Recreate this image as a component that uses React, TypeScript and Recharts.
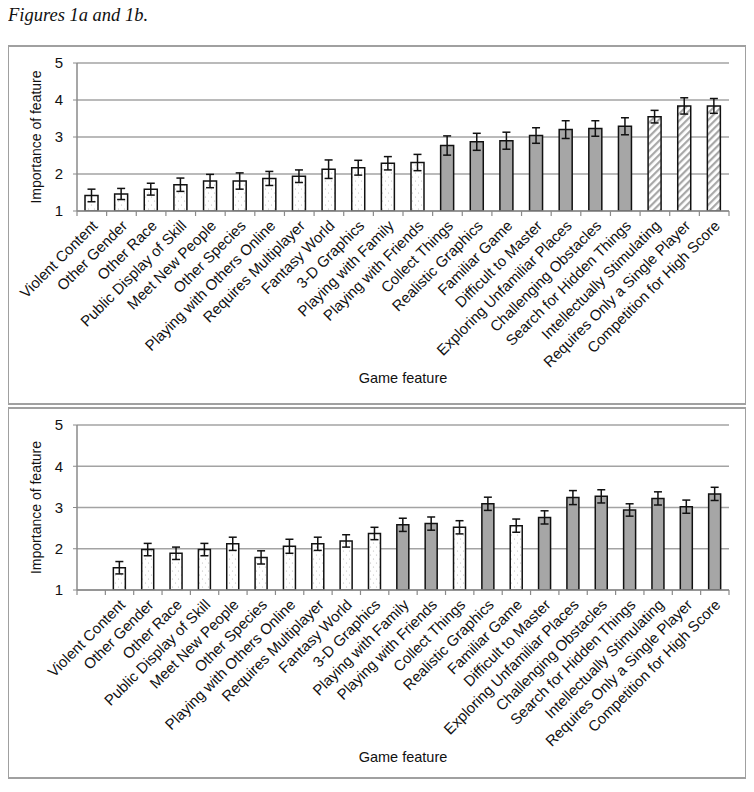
import React from 'react';
import { BarChart, Bar, XAxis, YAxis, CartesianGrid, Cell, ErrorBar, Label } from 'recharts';

// Figure 1a
const features1 = [
  'Violent Content', 'Other Gender', 'Other Race', 'Public Display of Skill', 'Meet New People',
  'Other Species', 'Playing with Others Online', 'Requires Multiplayer', 'Fantasy World', '3-D Graphics',
  'Playing with Family', 'Playing with Friends', 'Collect Things', 'Realistic Graphics', 'Familiar Game',
  'Difficult to Master', 'Exploring Unfamiliar Places', 'Challenging Obstacles', 'Search for Hidden Things',
  'Intellectually Stimulating', 'Requires Only a Single Player', 'Competition for High Score',
];
const means1 = [1.42, 1.46, 1.59, 1.71, 1.81, 1.81, 1.88, 1.94, 2.13, 2.17, 2.29, 2.31, 2.77, 2.87, 2.9, 3.04, 3.2, 3.23, 3.29, 3.55, 3.84, 3.84];
const errors1 = [0.17, 0.15, 0.16, 0.18, 0.18, 0.22, 0.19, 0.17, 0.25, 0.2, 0.18, 0.22, 0.26, 0.23, 0.23, 0.21, 0.24, 0.21, 0.23, 0.17, 0.22, 0.2];
const kinds1 = ['dot', 'dot', 'dot', 'dot', 'dot', 'dot', 'dot', 'dot', 'dot', 'dot', 'dot', 'dot',
  'gray', 'gray', 'gray', 'gray', 'gray', 'gray', 'gray', 'hatch', 'hatch', 'hatch'];

// Figure 1b (first slot is empty)
const features2 = ['', ...features1];
const means2 = [1, 1.54, 1.98, 1.89, 1.98, 2.12, 1.79, 2.06, 2.12, 2.19, 2.37, 2.58, 2.61, 2.52, 3.09, 2.56, 2.76, 3.24, 3.27, 2.94, 3.22, 3.02, 3.33];
const errors2 = [0, 0.15, 0.15, 0.15, 0.15, 0.16, 0.16, 0.17, 0.16, 0.15, 0.15, 0.16, 0.16, 0.16, 0.16, 0.16, 0.16, 0.17, 0.16, 0.15, 0.16, 0.16, 0.16];
const kinds2 = ['dot', 'dot', 'dot', 'dot', 'dot', 'dot', 'dot', 'dot', 'dot', 'dot', 'dot',
  'gray', 'gray', 'dot', 'gray', 'dot', 'gray', 'gray', 'gray', 'gray', 'gray', 'gray', 'gray'];

const yTicks = [1, 2, 3, 4, 5];

const table1 = features1.map((f, i) => ({ feature: f, mean: means1[i], err: errors1[i], kind: kinds1[i] }));
const table2 = features2.map((f, i) => ({ feature: f, mean: means2[i], err: errors2[i], kind: kinds2[i] }));

const SANS = '"Liberation Sans", Arial, sans-serif';
const GRID = '#a3a3a3';
const AXIS = '#8a8a8a';

function fillFor(kind: string, id: string) {
  if (kind === 'gray') return '#a6a6a6';
  if (kind === 'hatch') return `url(#hatch-${id})`;
  return `url(#dots-${id})`;
}

function FeatureTick(props: any) {
  const { x, y, payload, index, band } = props;
  const half = payload.offset || band / 2;
  const px = x + 3;
  const py = y + 12;
  return (
    <g>
      {index === 0 && <line x1={x - half} x2={x - half} y1={y} y2={y + 5} stroke={AXIS} strokeWidth={1.2} />}
      <line x1={x + half} x2={x + half} y1={y} y2={y + 5} stroke={AXIS} strokeWidth={1.2} />
      <text
        x={px}
        y={py}
        dy="0.35em"
        textAnchor="end"
        transform={`rotate(-45, ${px}, ${py})`}
        fontSize={15}
        fontFamily={SANS}
        fill="#111"
      >
        {payload.value}
      </text>
    </g>
  );
}

function Panel({ data, id, height, axisHeight, barSize, xLabelOffset }: any) {
  const width = 736;
  const band = (width - 68 - 16) / data.length;
  return (
    <BarChart width={width} height={height} data={data} margin={{ top: 16, right: 16, left: 0, bottom: 0 }} barCategoryGap={0}>
      <defs>
        <pattern id={`dots-${id}`} width="6" height="8" patternUnits="userSpaceOnUse">
          <rect width="6" height="8" fill="#fff" />
          <circle cx="1.5" cy="2" r="0.6" fill="#b8b8b8" />
          <circle cx="4.5" cy="6" r="0.6" fill="#b8b8b8" />
        </pattern>
        <pattern id={`hatch-${id}`} width="5" height="5" patternUnits="userSpaceOnUse" patternTransform="rotate(45)">
          <rect width="5" height="5" fill="#fff" />
          <rect width="2.2" height="5" fill="#a8a8a8" />
        </pattern>
      </defs>
      <CartesianGrid vertical={false} stroke={GRID} strokeWidth={1.5} />
      <XAxis
        dataKey="feature"
        interval={0}
        height={axisHeight}
        tickSize={0}
        tickMargin={0}
        tickLine={false}
        axisLine={{ stroke: AXIS, strokeWidth: 1.5 }}
        tick={<FeatureTick band={band} />}
      >
        <Label
          value="Game feature"
          position="insideBottom"
          offset={xLabelOffset}
          style={{ fontSize: 14.5, fontFamily: SANS, fill: '#111' }}
        />
      </XAxis>
      <YAxis
        width={68}
        domain={[1, 5]}
        ticks={yTicks}
        allowDataOverflow
        tickSize={4}
        tickMargin={10}
        tickLine={{ stroke: AXIS }}
        axisLine={{ stroke: AXIS, strokeWidth: 1.5 }}
        tick={{ fontSize: 15, fill: '#111', fontFamily: SANS }}
      >
        <Label
          value="Importance of feature"
          angle={-90}
          position="insideLeft"
          offset={27}
          style={{ textAnchor: 'middle', fontSize: 14, fontFamily: SANS, fill: '#111' }}
        />
      </YAxis>
      <Bar dataKey="mean" barSize={barSize} stroke="#111" strokeWidth={1.5} isAnimationActive={false}>
        {data.map((d: any, i: number) => (
          <Cell key={i} fill={fillFor(d.kind, id)} />
        ))}
        <ErrorBar dataKey="err" width={4} stroke="#111" strokeWidth={1.5} isAnimationActive={false} />
      </Bar>
    </BarChart>
  );
}

const boxStyle: React.CSSProperties = {
  position: 'absolute',
  left: -1,
  width: 740,
  boxSizing: 'border-box',
  border: '2px solid #a0a0a0',
  background: '#fff',
};

export default function App() {
  return (
    <div style={{ position: 'relative', width: 740, height: 776 }}>
      <div
        style={{
          position: 'absolute',
          top: -2,
          left: 0,
          fontFamily: '"Liberation Serif", "Times New Roman", serif',
          fontStyle: 'italic',
          fontSize: 18.5,
          lineHeight: '18px',
          color: '#111',
        }}
      >
        Figures 1a and 1b.
      </div>
      <div style={{ ...boxStyle, top: 37, height: 360 }}>
        <Panel data={table1} id="a" height={356} axisHeight={192} barSize={13} xLabelOffset={20} />
      </div>
      <div style={{ ...boxStyle, top: 399, height: 372 }}>
        <Panel data={table2} id="b" height={368} axisHeight={187} barSize={12} xLabelOffset={15} />
      </div>
    </div>
  );
}
